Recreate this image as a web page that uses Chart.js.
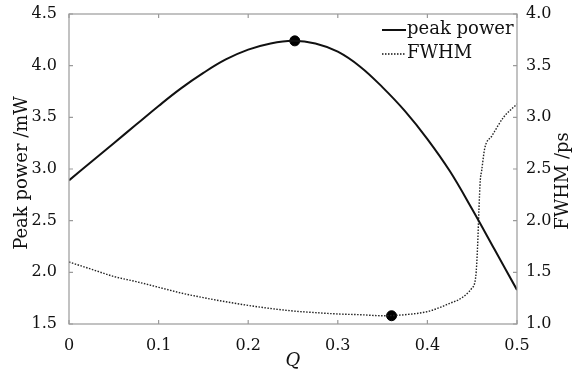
<!DOCTYPE html>
<html>
<head>
<meta charset="utf-8">
<script src="https://cdn.jsdelivr.net/npm/chart.js@4"></script>
<style>
  html, body { margin: 0; padding: 0; background: #fff; }
  #wrap { width: 585px; height: 375px; }
</style>
</head>
<body>
<div id="wrap"><canvas id="chart" width="585" height="375"></canvas></div>
<script>
// peak power (left axis, mW) against Q
const powerQ = [0, 0.025, 0.05, 0.075, 0.1, 0.125, 0.15, 0.175, 0.2, 0.225, 0.25, 0.275, 0.3, 0.325, 0.35, 0.375, 0.4, 0.425, 0.45, 0.475, 0.5];
const powerVals = [2.89, 3.07, 3.25, 3.43, 3.61, 3.78, 3.93, 4.06, 4.155, 4.215, 4.24, 4.215, 4.135, 3.99, 3.79, 3.56, 3.29, 2.98, 2.61, 2.22, 1.83];

// FWHM (right axis, ps) against Q
const fwhmQ = [0, 0.025, 0.05, 0.075, 0.1, 0.125, 0.15, 0.175, 0.2, 0.225, 0.25, 0.275, 0.3, 0.325, 0.35, 0.375, 0.4, 0.414, 0.425, 0.436, 0.445, 0.449, 0.454, 0.456, 0.4575, 0.459, 0.4605, 0.464, 0.472, 0.485, 0.5];
const fwhmVals = [1.60, 1.53, 1.46, 1.41, 1.355, 1.30, 1.255, 1.215, 1.18, 1.15, 1.126, 1.11, 1.097, 1.09, 1.08, 1.09, 1.12, 1.16, 1.20, 1.24, 1.30, 1.34, 1.46, 1.75, 2.1, 2.39, 2.48, 2.70, 2.82, 3.0, 3.13];

// highlighted points
const powerMarker = { x: 0.252, y: 4.24 };
const fwhmMarker = { x: 0.36, y: 1.08 };

const xTicks = [0, 0.1, 0.2, 0.3, 0.4, 0.5];
const leftTicks = [1.5, 2.0, 2.5, 3.0, 3.5, 4.0, 4.5];
const rightTicks = [1.0, 1.5, 2.0, 2.5, 3.0, 3.5, 4.0];

const SERIF = "'DejaVu Serif', 'Liberation Serif', serif";
const AXIS_GRAY = "#9a9a9a";

function pts(xs, ys) {
  return xs.map((x, i) => ({ x, y: ys[i] }));
}

// frame, inward ticks, axis titles and the legend
const decorPlugin = {
  id: "decor",
  afterDraw(chart) {
    const { ctx, chartArea: a, scales } = chart;
    ctx.save();
    ctx.strokeStyle = AXIS_GRAY;
    ctx.lineWidth = 1.2;
    ctx.strokeRect(a.left, a.top, a.right - a.left, a.bottom - a.top);

    ctx.beginPath();
    const t = 4;
    xTicks.forEach(v => {
      const px = scales.x.getPixelForValue(v);
      ctx.moveTo(px, a.bottom); ctx.lineTo(px, a.bottom - t);
      ctx.moveTo(px, a.top); ctx.lineTo(px, a.top + t);
    });
    leftTicks.forEach(v => {
      const py = scales.y.getPixelForValue(v);
      ctx.moveTo(a.left, py); ctx.lineTo(a.left + t, py);
    });
    rightTicks.forEach(v => {
      const py = scales.y1.getPixelForValue(v);
      ctx.moveTo(a.right, py); ctx.lineTo(a.right - t, py);
    });
    ctx.stroke();

    ctx.fillStyle = "#111";
    ctx.font = "18px " + SERIF;
    ctx.textAlign = "center";
    ctx.textBaseline = "middle";
    ctx.save();
    ctx.translate(22, (a.top + a.bottom) / 2 + 4);
    ctx.rotate(-Math.PI / 2);
    ctx.fillText("Peak power /mW", 0, 0);
    ctx.restore();
    ctx.save();
    ctx.translate(563, (a.top + a.bottom) / 2 + 12);
    ctx.rotate(-Math.PI / 2);
    ctx.fillText("FWHM /ps", 0, 0);
    ctx.restore();
    ctx.font = "italic 18px " + SERIF;
    ctx.fillText("Q", (a.left + a.right) / 2, 361);

    // legend
    ctx.font = "18px " + SERIF;
    ctx.textAlign = "left";
    ctx.strokeStyle = "#111";
    ctx.lineWidth = 2;
    ctx.beginPath();
    ctx.moveTo(382, 30); ctx.lineTo(406, 30);
    ctx.stroke();
    ctx.fillText("peak power", 407, 29);
    ctx.lineWidth = 1.3;
    ctx.setLineDash([1.5, 1.5]);
    ctx.beginPath();
    ctx.moveTo(382, 54); ctx.lineTo(406, 54);
    ctx.stroke();
    ctx.setLineDash([]);
    ctx.fillText("FWHM", 407, 53);
    ctx.restore();
  }
};

new Chart(document.getElementById("chart"), {
  type: "line",
  data: {
    datasets: [
      {
        label: "peak power",
        data: pts(powerQ, powerVals),
        yAxisID: "y",
        borderColor: "#111",
        borderWidth: 2,
        pointRadius: 0,
        tension: 0.4
      },
      {
        label: "FWHM",
        data: pts(fwhmQ, fwhmVals),
        yAxisID: "y1",
        borderColor: "#222",
        borderWidth: 1.4,
        borderDash: [1.5, 1.5],
        pointRadius: 0,
        cubicInterpolationMode: "monotone"
      },
      {
        label: "peak marker",
        data: [powerMarker],
        yAxisID: "y",
        showLine: false,
        pointRadius: 5,
        pointBackgroundColor: "#000",
        pointBorderColor: "#000"
      },
      {
        label: "fwhm marker",
        data: [fwhmMarker],
        yAxisID: "y1",
        showLine: false,
        pointRadius: 5,
        pointBackgroundColor: "#000",
        pointBorderColor: "#000"
      }
    ]
  },
  options: {
    responsive: false,
    animation: false,
    layout: { padding: { top: 14, right: 0, left: 0, bottom: 0 } },
    plugins: { legend: { display: false }, tooltip: { enabled: false } },
    scales: {
      x: {
        type: "linear",
        min: 0, max: 0.5,
        afterBuildTicks: s => { s.ticks = xTicks.map(v => ({ value: v })); },
        afterFit: s => { s.height = 51; },
        grid: { display: false },
        border: { display: false },
        ticks: { color: "#111", font: { family: SERIF, size: 16 }, padding: 4, maxRotation: 0,
          callback: v => v === 0 ? "0" : v.toFixed(1) }
      },
      y: {
        position: "left",
        min: 1.5, max: 4.5,
        afterBuildTicks: s => { s.ticks = leftTicks.map(v => ({ value: v })); },
        afterFit: s => { s.width = 69; },
        grid: { display: false },
        border: { display: false },
        ticks: { color: "#111", font: { family: SERIF, size: 16 }, padding: 4, callback: v => v.toFixed(1) }
      },
      y1: {
        position: "right",
        min: 1.0, max: 4.0,
        afterBuildTicks: s => { s.ticks = rightTicks.map(v => ({ value: v })); },
        afterFit: s => { s.width = 68; },
        grid: { display: false },
        border: { display: false },
        ticks: { color: "#111", font: { family: SERIF, size: 16 }, padding: 1, callback: v => v.toFixed(1) }
      }
    }
  },
  plugins: [decorPlugin]
});
</script>
</body>
</html>
